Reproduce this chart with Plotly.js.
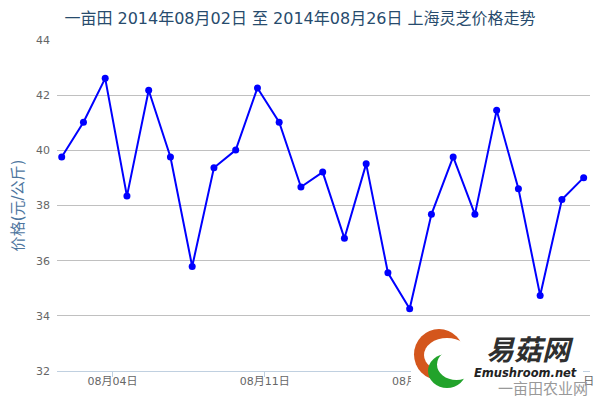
<!DOCTYPE html>
<html><head><meta charset="utf-8">
<script src="https://cdn.plot.ly/plotly-3.0.1.min.js"></script>
<style>html,body{margin:0;padding:0;background:#fff}#chart{width:600px;height:400px}</style>
</head><body><div id="chart"></div>
<script>
const dates = ["2014-08-02","2014-08-03","2014-08-04","2014-08-05","2014-08-06","2014-08-07","2014-08-08","2014-08-09","2014-08-10","2014-08-11","2014-08-12","2014-08-13","2014-08-14","2014-08-15","2014-08-16","2014-08-17","2014-08-18","2014-08-19","2014-08-20","2014-08-21","2014-08-22","2014-08-23","2014-08-24","2014-08-25","2014-08-26"];
const prices = [39.76,41.02,42.61,38.34,42.18,39.76,35.79,39.37,40.01,42.26,41.02,38.67,39.21,36.81,39.51,35.56,34.26,37.68,39.76,37.68,41.45,38.61,34.74,38.22,39.01];
// axis ticks sit at UTC midnight (points are at UTC+8 local midnight)
const tickDates = ["2014-08-04 08:00","2014-08-11 08:00","2014-08-18 08:00","2014-08-25 08:00"];
const tickLabels = ["08月04日","08月11日","08月18日","08月25日"];
const yTicks = [32,34,36,38,40,42,44];
const titleText = "一亩田 2014年08月02日 至 2014年08月26日 上海灵芝价格走势";
const yTitle = "价格(元/公斤)";

const font = "DejaVu Sans, Noto Sans CJK SC, sans-serif";
const L = 57, W = 533, B = 371, H = 331;
const px = v => (v - L) / W;
const py = v => (B - v) / H;

const trace = {
  x: dates, y: prices, type: "scatter", mode: "lines+markers",
  line: {color: "#0000FF", width: 2},
  marker: {color: "#0000FF", size: 7},
  hoverinfo: "skip"
};
const layout = {
  width: 600, height: 400,
  margin: {l: 57, r: 10, t: 40, b: 29},
  paper_bgcolor: "#fff", plot_bgcolor: "#fff",
  showlegend: false,
  font: {family: font},
  title: {text: titleText, x: 0.5, xref: "container", y: 0.955, yref: "container", yanchor: "middle",
          font: {family: font, size: 16, color: "#274b6d"}},
  xaxis: {
    type: "date", range: ["2014-08-01 18:49", "2014-08-26 07:00"],
    tickvals: tickDates, ticktext: tickLabels,
    tickfont: {size: 11, color: "#666"},
    showgrid: false, zeroline: false,
    showline: true, linecolor: "#C0D0E0", linewidth: 1,
    ticks: "outside", ticklen: 5, tickcolor: "#C0D0E0",
    ticklabelstandoff: -5
  },
  yaxis: {
    range: [32, 44], tickvals: yTicks,
    tickfont: {size: 11, color: "#666"},
    showgrid: true, gridcolor: "#C0C0C0", gridwidth: 1,
    zeroline: false, showline: false, ticks: "",
    ticklabelstandoff: 6,
    title: {text: yTitle, font: {family: font, size: 15, color: "#4d759e"}, standoff: 8}
  },
  shapes: [
    {type: "rect", xref: "paper", yref: "paper", layer: "above",
     x0: px(411), x1: px(583), y0: py(392), y1: py(328),
     fillcolor: "#ffffff", line: {width: 0}},
    {type: "circle", xref: "paper", yref: "paper", layer: "above",
     x0: px(414), x1: px(464), y0: py(380), y1: py(329),
     fillcolor: "#d4561c", line: {width: 0}},
    {type: "circle", xref: "paper", yref: "paper", layer: "above",
     x0: px(424), x1: px(470), y0: py(372), y1: py(338),
     fillcolor: "#ffffff", line: {width: 0}},
    {type: "circle", xref: "paper", yref: "paper", layer: "above",
     x0: px(428), x1: px(466), y0: py(388), y1: py(354),
     fillcolor: "#22a32b", line: {width: 0}},
    {type: "circle", xref: "paper", yref: "paper", layer: "above",
     x0: px(437), x1: px(476), y0: py(380), y1: py(349),
     fillcolor: "#ffffff", line: {width: 0}}
  ],
  annotations: [
    {text: "<b><i>易菇网</i></b>", xref: "paper", yref: "paper", x: px(530), y: py(348),
     xanchor: "center", yanchor: "middle",
     showarrow: false, font: {family: "Noto Sans CJK SC", size: 28, color: "#2f2f2f"}},
    {text: "<b><i>Emushroom.net</i></b>", xref: "paper", yref: "paper", x: px(525), y: py(373),
     xanchor: "center", yanchor: "middle",
     showarrow: false, font: {family: "DejaVu Sans", size: 11.5, color: "#222"}},
    {text: "一亩田农业网", xref: "paper", yref: "paper", x: px(543), y: py(388),
     xanchor: "center", yanchor: "middle",
     showarrow: false, font: {family: "Noto Sans CJK SC", size: 15, color: "#999"}}
  ]
};
Plotly.newPlot("chart", [trace], layout, {displayModeBar: false, staticPlot: true});
</script></body></html>
